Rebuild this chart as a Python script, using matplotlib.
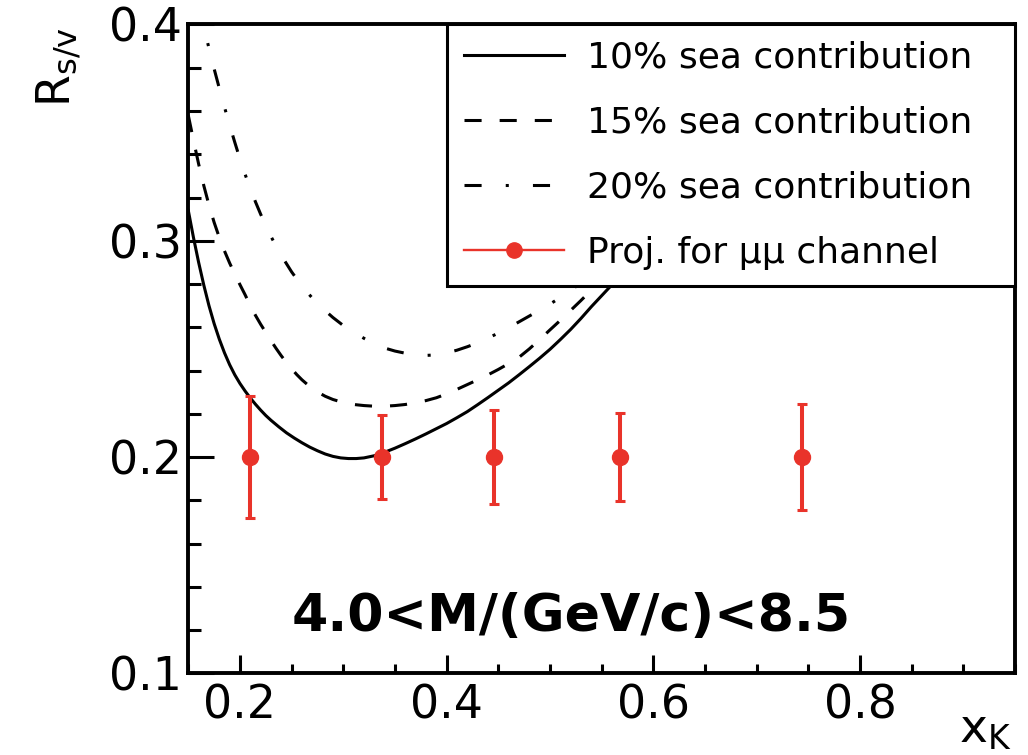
import matplotlib
matplotlib.use("Agg")
import matplotlib.pyplot as plt
from matplotlib.lines import Line2D
from matplotlib.ticker import MultipleLocator

# ---------------- data ----------------
x_sea10 = [0.150, 0.155, 0.160, 0.165, 0.170, 0.175, 0.180, 0.185, 0.190, 0.195,
           0.200, 0.205, 0.210, 0.215, 0.220, 0.225, 0.230, 0.2375, 0.245, 0.2525,
           0.260, 0.2675, 0.275, 0.2825, 0.290, 0.2975, 0.305, 0.3125, 0.320, 0.330,
           0.340, 0.350, 0.360, 0.370, 0.380, 0.390, 0.400, 0.410, 0.420, 0.430,
           0.440, 0.450, 0.460, 0.470, 0.480, 0.490, 0.500, 0.510, 0.520, 0.530,
           0.540, 0.550, 0.560, 0.570, 0.580, 0.590, 0.600]
y_sea10 = [0.3140, 0.3015, 0.2900, 0.2795, 0.2700, 0.2617, 0.2545, 0.2482, 0.2427, 0.2380,
           0.2340, 0.2305, 0.2273, 0.2244, 0.2217, 0.2192, 0.2170, 0.2140, 0.2112, 0.2088,
           0.2066, 0.2046, 0.2029, 0.2014, 0.2003, 0.1996, 0.1993, 0.1993, 0.1996, 0.2006,
           0.2022, 0.2041, 0.2062, 0.2084, 0.2107, 0.2131, 0.2155, 0.2182, 0.2210, 0.2242,
           0.2275, 0.2309, 0.2343, 0.2380, 0.2418, 0.2457, 0.2498, 0.2543, 0.2590, 0.2641,
           0.2695, 0.2746, 0.2797, 0.2853, 0.2910, 0.2970, 0.3030]

x_sea15 = [0.150, 0.155, 0.160, 0.165, 0.170, 0.175, 0.180, 0.185, 0.190, 0.195,
           0.200, 0.205, 0.210, 0.215, 0.220, 0.225, 0.230, 0.235, 0.240, 0.245,
           0.250, 0.255, 0.260, 0.2675, 0.275, 0.2825, 0.290, 0.300, 0.310, 0.320,
           0.330, 0.340, 0.350, 0.360, 0.370, 0.380, 0.390, 0.400, 0.410, 0.420,
           0.430, 0.440, 0.450, 0.460, 0.470, 0.480, 0.490, 0.500, 0.510, 0.520,
           0.530, 0.540, 0.550, 0.560, 0.570, 0.585, 0.600]
y_sea15 = [0.3580, 0.3465, 0.3355, 0.3255, 0.3165, 0.3085, 0.3015, 0.2953, 0.2897, 0.2846,
           0.2797, 0.2750, 0.2700, 0.2655, 0.2614, 0.2576, 0.2538, 0.2502, 0.2468, 0.2437,
           0.2408, 0.2381, 0.2357, 0.2326, 0.2301, 0.2281, 0.2266, 0.2252, 0.2243, 0.2238,
           0.2235, 0.2235, 0.2238, 0.2243, 0.2251, 0.2261, 0.2274, 0.2292, 0.2313, 0.2335,
           0.2357, 0.2380, 0.2405, 0.2432, 0.2461, 0.2500, 0.2543, 0.2588, 0.2632, 0.2678,
           0.2724, 0.2772, 0.2820, 0.2870, 0.2920, 0.2995, 0.3070]

x_sea20 = [0.160, 0.165, 0.170, 0.175, 0.180, 0.185, 0.190, 0.195, 0.200, 0.205,
           0.210, 0.215, 0.220, 0.225, 0.230, 0.235, 0.240, 0.250, 0.260, 0.270,
           0.280, 0.290, 0.300, 0.310, 0.320, 0.330, 0.340, 0.350, 0.360, 0.370,
           0.380, 0.390, 0.400, 0.410, 0.420, 0.430, 0.440, 0.450, 0.460, 0.470,
           0.480, 0.490, 0.500, 0.510, 0.520, 0.530, 0.550, 0.570, 0.600]
y_sea20 = [0.4100, 0.3990, 0.3890, 0.3795, 0.3705, 0.3618, 0.3535, 0.3455, 0.3378, 0.3307,
           0.3241, 0.3180, 0.3123, 0.3070, 0.3020, 0.2975, 0.2932, 0.2856, 0.2790, 0.2735,
           0.2687, 0.2645, 0.2608, 0.2577, 0.2549, 0.2524, 0.2504, 0.2490, 0.2480, 0.2473,
           0.2470, 0.2472, 0.2481, 0.2494, 0.2510, 0.2528, 0.2550, 0.2573, 0.2598, 0.2625,
           0.2652, 0.2679, 0.2707, 0.2738, 0.2771, 0.2805, 0.2880, 0.2960, 0.3080]

x_proj = [0.210, 0.337, 0.446, 0.568, 0.744]
y_proj = [0.200, 0.200, 0.200, 0.200, 0.200]
err_proj = [0.028, 0.0195, 0.0217, 0.0202, 0.0244]

legend_labels = ["10% sea contribution", "15% sea contribution",
                 "20% sea contribution", "Proj. for \u03bc\u03bc channel"]
mass_label = "4.0<M/(GeV/c)<8.5"
x_ticks = [0.2, 0.4, 0.6, 0.8]
y_ticks = [0.1, 0.2, 0.3, 0.4]

# ---------------- style ----------------
plt.rcParams['font.family'] = ['DejaVu Sans']
RED = '#e9332a'
LW = 2.2
DASH = (5.6, 5.9)
DASHDOT = (5.6, 7.9, 1.0, 7.9)

fig = plt.figure(figsize=(10.28, 7.55), dpi=100)
ax = fig.add_axes([0.18317, 0.10821, 0.80418, 0.85934])

ax.plot(x_sea10, y_sea10, color='black', lw=LW, zorder=2)
ax.plot(x_sea15, y_sea15, color='black', lw=LW, dashes=DASH, zorder=2)
ax.plot(x_sea20, y_sea20, color='black', lw=LW, dashes=DASHDOT, zorder=2)
ax.errorbar(x_proj, y_proj, yerr=err_proj, fmt='o', color=RED, ms=11.5,
            elinewidth=2.9, capsize=3.8, capthick=2.2, zorder=3)

ax.set_xlim(0.15, 0.95)
ax.set_ylim(0.1, 0.4)
ax.set_xticks(x_ticks)
ax.set_xticklabels([f"{v:.1f}" for v in x_ticks])
ax.set_yticks(y_ticks)
ax.set_yticklabels([f"{v:.1f}" for v in y_ticks])
ax.xaxis.set_minor_locator(MultipleLocator(0.05))
ax.yaxis.set_minor_locator(MultipleLocator(0.02))
for s in ax.spines.values():
    s.set_linewidth(2.8)
ax.tick_params(axis='x', which='major', direction='in', length=13, width=2.2,
               pad=7, labelsize=33, top=False)
ax.tick_params(axis='x', which='minor', direction='in', length=6.5, width=2.2, top=False)
ax.tick_params(axis='y', which='major', direction='in', length=19, width=2.2,
               pad=4.5, labelsize=33, right=False)
ax.tick_params(axis='y', which='minor', direction='in', length=9.5, width=2.2, right=False)

ax.text(0.5205, 0.1196, mass_label, fontsize=37.5, fontweight='bold',
        ha='center', va='baseline', zorder=4)

handles = [
    Line2D([], [], color='black', lw=LW),
    Line2D([], [], color='black', lw=LW, dashes=DASH),
    Line2D([], [], color='black', lw=LW, dashes=DASHDOT),
    Line2D([], [], color=RED, lw=1.7, marker='o', ms=11),
]
leg = ax.legend(handles, legend_labels, loc='upper left',
                bbox_to_anchor=(0.3133, 0.0, 0.6867, 1.0), mode='expand',
                borderaxespad=0.0, fontsize=26, handlelength=2.77,
                handletextpad=0.66, borderpad=0.45, labelspacing=0.86,
                fancybox=False, framealpha=1.0, edgecolor='black')
leg.get_frame().set_linewidth(2.2)
leg.set_zorder(5)

fig.text(0.058, 0.964, r'R$_{\mathregular{s/v}}$', rotation=90, fontsize=33,
         ha='center', va='top')
fig.text(1012 / 1028, 1 - 742 / 755, r'x$_{\mathregular{K}}$', fontsize=34,
         ha='right', va='baseline')

fig.savefig('out.png', dpi=100)
